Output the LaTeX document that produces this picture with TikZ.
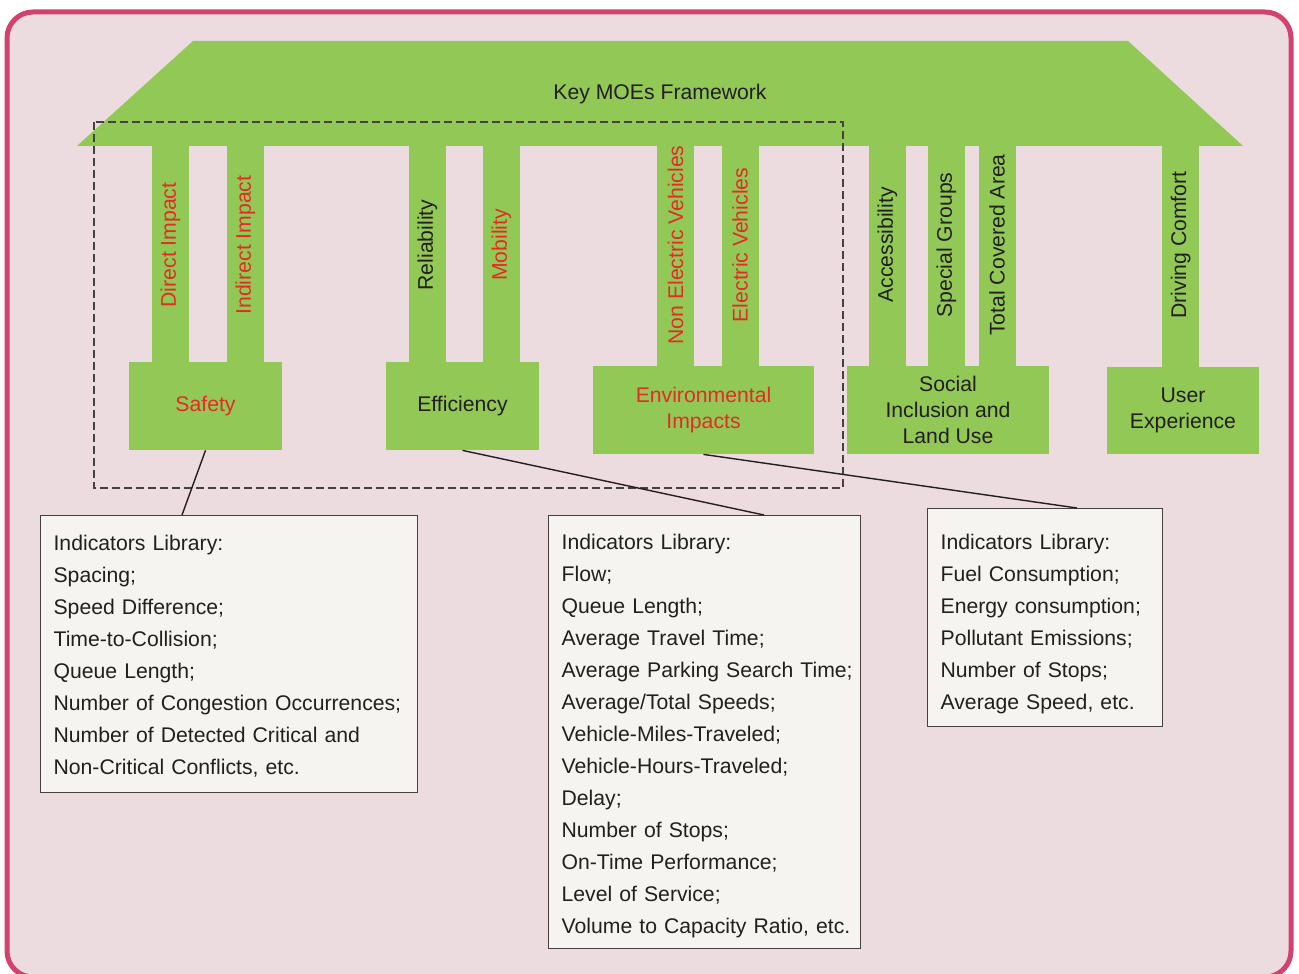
\documentclass[tikz,border=0pt]{standalone}
\usepackage{fontspec}
\setmainfont{Liberation Sans}
\definecolor{framepink}{HTML}{D3416F}
\definecolor{bgpink}{HTML}{ECDCE0}
\definecolor{pillargreen}{HTML}{92C855}
\definecolor{redtext}{HTML}{E42B25}
\definecolor{darktext}{HTML}{231F20}
\definecolor{libfill}{HTML}{F6F4F0}

\begin{document}
\begin{tikzpicture}[x=0.5pt, y=-0.5pt, font=\fontsize{10.6}{13}\selectfont,
        pillarbox/.style = {fill=pillargreen, inner sep=0pt, align=center,
                        text=darktext},
        leglabel/.style = {rotate=90, inner sep=0pt},
        library/.style = {draw=darktext!85, line width=0.6pt, fill=libfill,
                        align=left, inner sep=0pt, anchor=north west, text=darktext,
                        font=\fontsize{10.6}{16}\selectfont}]
        \useasboundingbox (0,0) rectangle (1299,973);

        % frame
        \draw[line width=2.5pt, draw=framepink, fill=bgpink, rounded corners=13pt]
                (7,12) rectangle (1291,977);

        % roof and pillars
        \fill[pillargreen] (193,41) -- (1128,41) -- (1243,146) -- (77,146) -- cycle;
        \node[text=darktext] (framework) at (660,94) {Key MOEs Framework};

        \foreach \x/\bot/\name/\txt/\col in {
                170.5/362/direct/Direct Impact/redtext,
                245.5/362/indirect/Indirect Impact/redtext,
                427.5/362/reliability/Reliability/darktext,
                501.5/362/mobility/Mobility/redtext,
                675.5/366/nonelectric/Non Electric Vehicles/redtext,
                740/366/electric/Electric Vehicles/redtext,
                887.5/366/accessibility/Accessibility/darktext,
                946.5/366/special/Special Groups/darktext,
                997/366/covered/Total Covered Area/darktext,
                1180.5/367/comfort/Driving Comfort/darktext}{
                \fill[pillargreen] (\x-18.5,140) rectangle (\x+18.5,\bot+2);
                \node[leglabel, text=\col] (\name) at (\x,245) {\txt};
        }

        \node[pillarbox, text=redtext, minimum width=76.5pt, minimum height=44pt]
                (safety) at (205.5,406) {Safety};
        \node[pillarbox, minimum width=76.5pt, minimum height=44pt]
                (efficiency) at (462.5,406) {Efficiency};
        \node[pillarbox, text=redtext, minimum width=110.5pt, minimum height=44pt]
                (environment) at (703.5,410) {Environmental\\Impacts};
        \node[pillarbox, minimum width=101pt, minimum height=44pt]
                (social) at (948,410) {Social\\Inclusion and\\Land Use};
        \node[pillarbox, minimum width=76pt, minimum height=43.5pt]
                (user) at (1183,410.5) {User\\Experience};

        % dashed group
        \draw[darktext!85, line width=0.65pt, dash pattern=on 4pt off 2pt]
                (94,122) rectangle (843,488);

        % indicator libraries
        \node[library, text width=188.5pt, minimum height=138.5pt] (libsafety) at (40,515)
                {\leftskip=6.5pt Indicators Library:\\Spacing;\\Speed Difference;\\
                Time-to-Collision;\\Queue Length;\\Number of Congestion Occurrences;\\
                Number of Detected Critical and\\Non-Critical Conflicts, etc.\par\vspace*{-2pt}};
        \node[library, text width=156pt, minimum height=216.5pt] (libefficiency) at (548,515)
                {\leftskip=6.5pt Indicators Library:\\Flow;\\Queue Length;\\
                Average Travel Time;\\Average Parking Search Time;\\
                Average/Total Speeds;\\Vehicle-Miles-Traveled;\\
                Vehicle-Hours-Traveled;\\Delay;\\Number of Stops;\\
                On-Time Performance;\\Level of Service;\\
                Volume to Capacity Ratio, etc.\par\vspace*{-4pt}};
        \node[library, text width=117.5pt, minimum height=109pt] (libenvironment) at (927,508)
                {\leftskip=6.5pt Indicators Library:\\Fuel Consumption;\\
                Energy consumption;\\Pollutant Emissions;\\Number of Stops;\\
                Average Speed, etc.\par\vspace*{-6pt}};

        \draw[darktext, line width=0.7pt] (safety.south) -- ([xshift=71pt]libsafety.north west);
        \draw[darktext, line width=0.7pt] (efficiency.south) -- ([xshift=108pt]libefficiency.north west);
        \draw[darktext, line width=0.7pt] (environment.south) -- ([xshift=75pt]libenvironment.north west);
    \end{tikzpicture}
\end{document}
